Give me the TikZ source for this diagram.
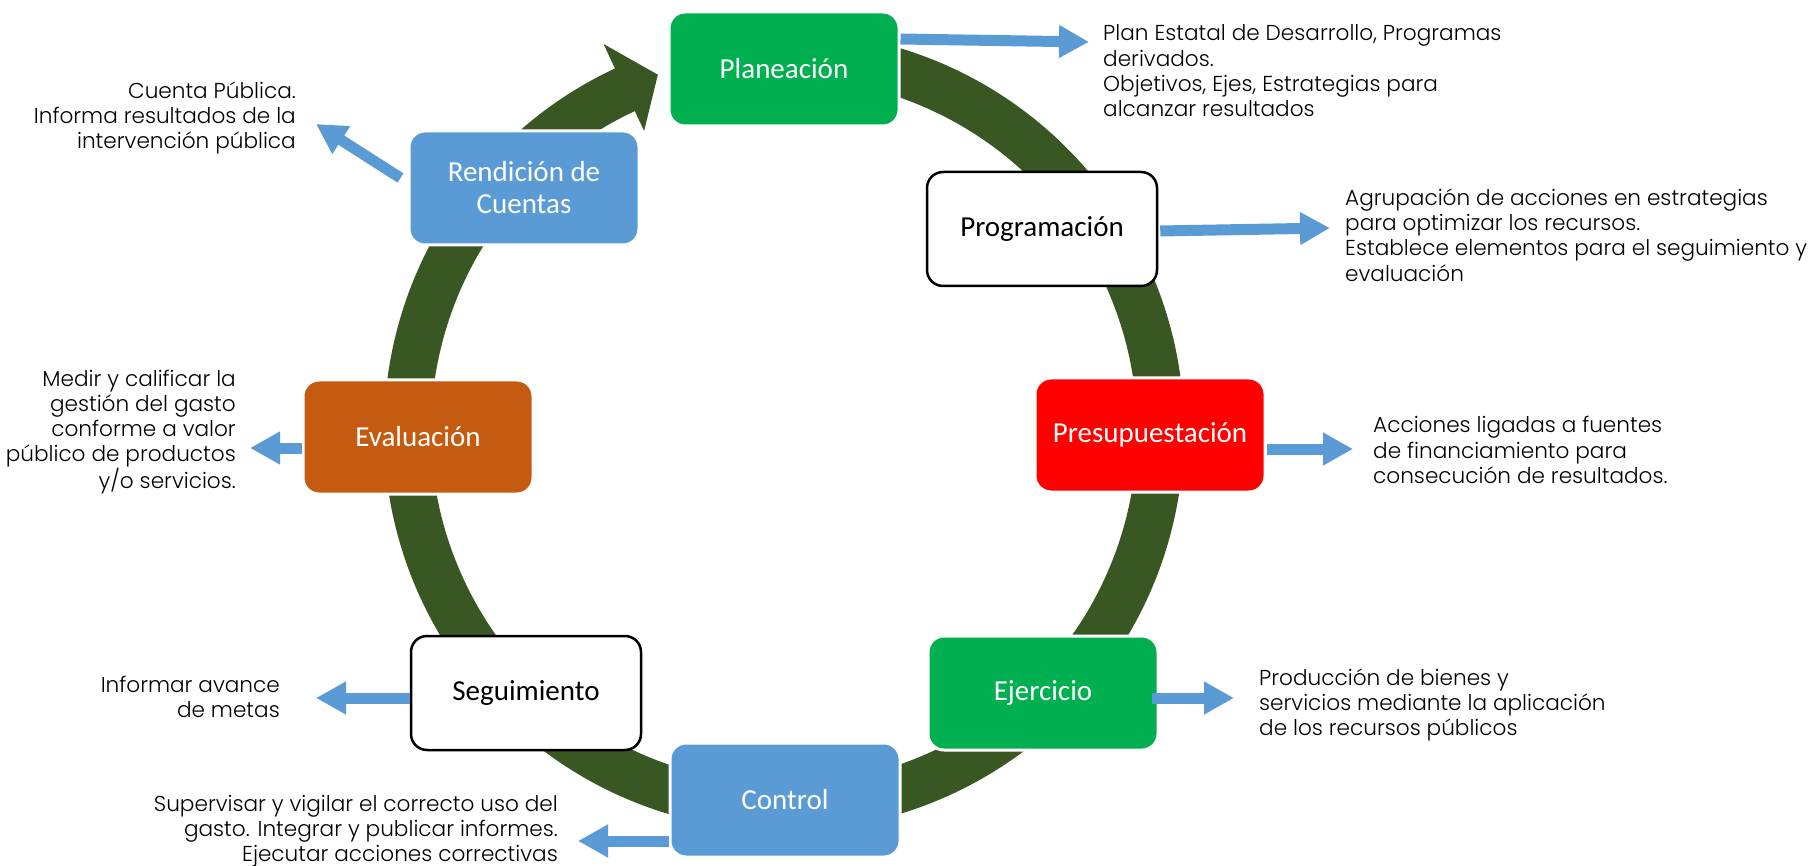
\documentclass[tikz,border=0pt]{standalone}
\usepackage{fontspec}
\setmainfont{Poppins}[UprightFont=* Light]
\newfontfamily\boxfont{Carlito}
\usetikzlibrary{arrows.meta,calc}
\definecolor{ringc}{HTML}{385723}
\definecolor{bluec}{HTML}{5B9BD5}
\definecolor{greenc}{HTML}{00B050}
\definecolor{redc}{HTML}{FF0000}
\definecolor{orangec}{HTML}{C55A11}
\tikzset{
  stage/.style={rounded corners=16pt, minimum width=230pt, minimum height=114pt,
    font=\boxfont\fontsize{29}{32}\selectfont, align=center, inner sep=0pt},
  colbox/.style={stage, draw=white, line width=3pt, text=white, fill=#1},
  whitebox/.style={stage, draw=black, line width=2.5pt, fill=white, text=black},
  desc/.style={font=\fontsize{21.6}{25.3}\selectfont, inner sep=0pt, text=black},
  flow/.style={bluec, line width=11pt, -{Triangle[width=31pt,length=30pt]}},
}
\begin{document}
\begin{tikzpicture}[x=1pt,y=-1pt]
\useasboundingbox (0,0) rectangle (1810,866);
\fill[white] (0,0) rectangle (1810,866);
\coordinate (C) at (784,431);
% ring with arrow head
\fill[ringc] ($(C)+(-80:400)$) arc[start angle=-80,end angle=245,radius=400]
  -- ($(C)+(245:427)$) -- ($(C)+(250.5:378)$) -- ($(C)+(245:331)$)
  -- ($(C)+(245:353)$) arc[start angle=245,end angle=-80,radius=353] -- cycle;
% stages
\node[colbox=greenc] (plan) at (784,69) {Planeación};
\node[whitebox] (prog) at (1042,229) {Programación};
\node[colbox=redc] (pres) at (1150,435) {Presupuestación};
\node[colbox=greenc] (ejer) at (1043,693) {Ejercicio};
\node[colbox=bluec] (ctrl) at (785,800) {Control};
\node[whitebox] (segu) at (526,693) {Seguimiento};
\node[colbox=orangec] (eval) at (418,437) {Evaluación};
\node[colbox=bluec] (rend) at (524,188) {Rendición de\\Cuentas};
% descriptions
\node[desc, anchor=west, align=left] (tplan) at (1103,71) {Plan Estatal de Desarrollo, Programas\\derivados.\\Objetivos, Ejes, Estrategias para\\alcanzar resultados};
\node[desc, anchor=west, align=left] (tprog) at (1345,235) {Agrupación de acciones en estrategias\\para optimizar los recursos.\\Establece elementos para el seguimiento y\\evaluación};
\node[desc, anchor=west, align=left] (tpres) at (1373,450) {Acciones ligadas a fuentes\\de financiamiento para\\consecución de resultados.};
\node[desc, anchor=west, align=left] (tejer) at (1259,705) {Producción de bienes y\\servicios mediante la aplicación\\de los recursos públicos};
\node[desc, anchor=east, align=right] (tctrl) at (558,831) {Supervisar y vigilar el correcto uso del\\gasto. Integrar y publicar informes.\\Ejecutar acciones correctivas};
\node[desc, anchor=east, align=right] (tsegu) at (280,697) {Informar avance\\de metas};
\node[desc, anchor=east, align=right] (teval) at (236,432) {Medir y calificar la\\gestión del gasto\\conforme a valor\\público de productos\\y/o servicios.};
\node[desc, anchor=east, align=right] (trend) at (296,118) {Cuenta Pública.\\Informa resultados de la\\intervención pública};
% arrow tips
\coordinate (aplan) at (1089,42);
\coordinate (aprog) at (1330,228);
\coordinate (apres) at (1353,449);
\coordinate (aejer) at (1234,698);
\coordinate (actrl) at (578,841);
\coordinate (asegu) at (316,698);
\coordinate (aeval) at (250,448);
\coordinate (arend) at (316,124);
\draw[flow] ($(plan.east)+(0,-30)$) -- (aplan);
\draw[flow] ($(prog.east)+(2,2)$) -- (aprog);
\draw[flow] ($(pres.east)+(0,14)$) -- (apres);
\draw[flow] ($(ejer.east)+(-8,5)$) -- (aejer);
\draw[flow] ($(ctrl.west)+(0,41)$) -- (actrl);
\draw[flow] ($(segu.west)+(0,5)$) -- (asegu);
\draw[flow] ($(eval.west)+(0,11)$) -- (aeval);
\draw[flow] ($(rend.west)+(-7,-10)$) -- (arend);
\end{tikzpicture}
\end{document}
